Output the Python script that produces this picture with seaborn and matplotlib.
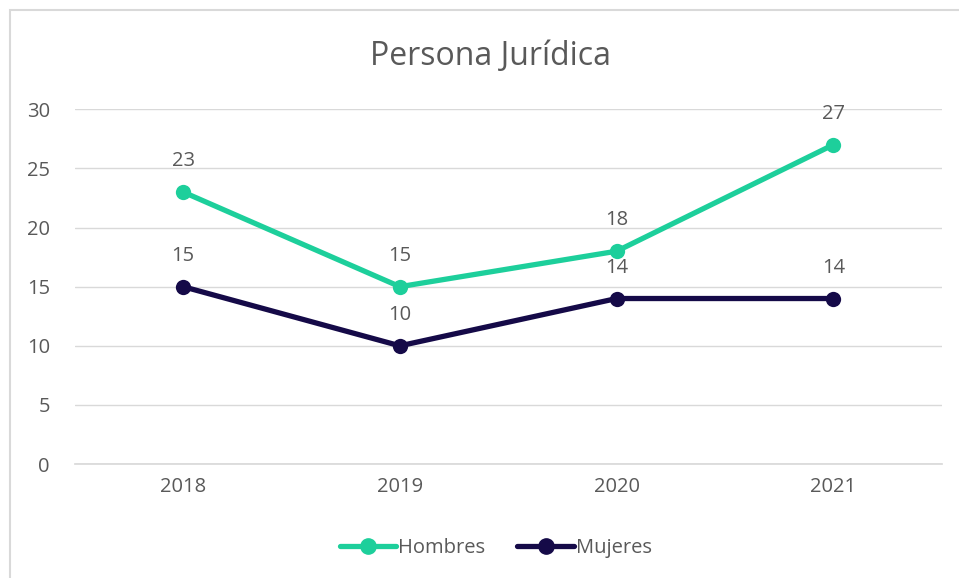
import pandas as pd
import seaborn as sns
import matplotlib.pyplot as plt
from matplotlib.patches import Rectangle
from matplotlib.lines import Line2D

years = ["2018", "2019", "2020", "2021"]
hombres = [23, 15, 18, 27]
mujeres = [15, 10, 14, 14]

green = "#1DCF9B"
navy = "#150A48"
gray = "#595959"

df = pd.DataFrame({"Año": years * 2,
                   "Valor": hombres + mujeres,
                   "Serie": ["Hombres"] * 4 + ["Mujeres"] * 4})

sns.set_theme(style="white")
plt.rcParams["font.family"] = ["Open Sans", "DejaVu Sans"]

fig = plt.figure(figsize=(9.59, 5.78), dpi=100)
ax = fig.add_axes([0.078, 0.197, 0.904, 0.614])

sns.lineplot(data=df, x="Año", y="Valor", hue="Serie", palette=[green, navy],
             marker="o", markersize=11, markeredgewidth=0, linewidth=3.8,
             ax=ax, legend=False, sort=False)

ax.set_xlim(-0.5, 3.5)
ax.set_ylim(0, 30)
ax.set_yticks(range(0, 31, 5))
ax.yaxis.grid(True, color="#D9D9D9", linewidth=1)
ax.xaxis.grid(False)
for s in ["top", "right", "left"]:
    ax.spines[s].set_visible(False)
ax.spines["bottom"].set_color("#D9D9D9")
ax.tick_params(axis="both", colors=gray, labelsize=14.5, length=0, pad=9)
ax.tick_params(axis="y", pad=18)
ax.set_xlabel("")
ax.set_ylabel("")

for i, v in enumerate(hombres):
    ax.annotate(str(v), (i, v), xytext=(0, 15), textcoords="offset points",
                ha="center", va="bottom", color=gray, fontsize=14.5)
for i, v in enumerate(mujeres):
    ax.annotate(str(v), (i, v), xytext=(0, 15), textcoords="offset points",
                ha="center", va="bottom", color=gray, fontsize=14.5)

fig.text(0.511, 0.902, "Persona Jurídica", ha="center", va="center",
         fontsize=23, color=gray)

handles = [Line2D([], [], color=green, marker="o", markersize=11, linewidth=3.8),
           Line2D([], [], color=navy, marker="o", markersize=11, linewidth=3.8)]
fig.legend(handles, ["Hombres", "Mujeres"], loc="center", bbox_to_anchor=(0.517, 0.052),
           ncol=2, frameon=False, fontsize=14.5, labelcolor=gray,
           handlelength=2.8, handletextpad=0.1, columnspacing=1.6)

fig.patches.append(Rectangle((10 / 959, -0.1), 1.2, 1 - 10 / 578 + 0.1,
                             transform=fig.transFigure, fill=False,
                             edgecolor="#D9D9D9", linewidth=1.5))

fig.savefig("out.png", dpi=100)
